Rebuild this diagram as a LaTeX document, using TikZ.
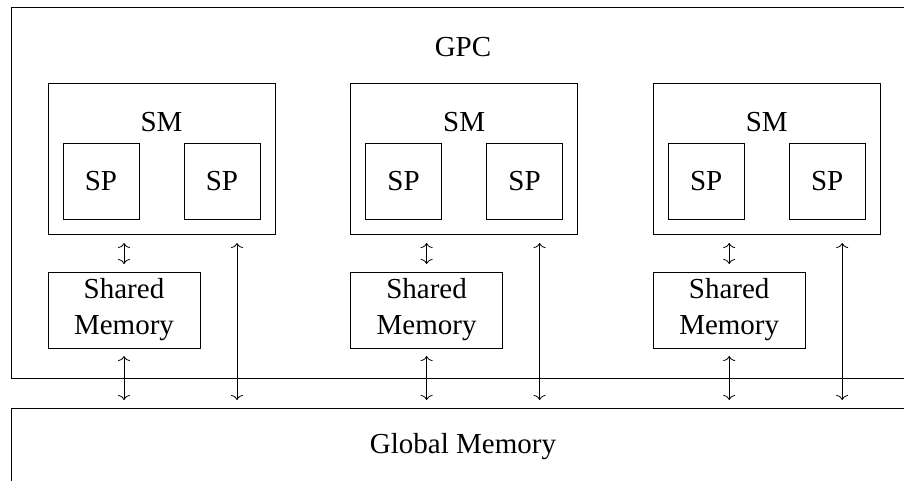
\documentclass[tikz,border=0pt]{standalone}
\usepackage{fontspec}
\setmainfont{Liberation Serif}
\usetikzlibrary{arrows.meta}
\begin{document}
\begin{tikzpicture}[x=1pt,y=-1pt,
  every node/.style={font=\fontsize{29}{36}\selectfont},
  box/.style={draw, line width=0.8pt, inner sep=0pt, outer sep=0pt, anchor=north west},
  lbl/.style={inner sep=0pt, anchor=base},
  arr/.style={line width=0.8pt, {To[width=12pt,length=5pt]}-{To[width=12pt,length=5pt]}}]
\useasboundingbox (0,0) rectangle (904,480);
\clip (0,0) rectangle (904,480);
% outer boxes
\node[box, minimum width=904pt, minimum height=371pt] (gpc) at (11,7) {};
\node[lbl] (gpclabel) at (463,56) {GPC};
\node[box, minimum width=904pt, minimum height=90pt] (gm) at (11,408) {};
\node[lbl] (gmlabel) at (463,453) {Global Memory};
\foreach \i in {0,1,2} {
  \pgfmathsetmacro\ox{48+302.6*\i}
  \node[box, minimum width=227pt, minimum height=151pt] (sm\i) at (\ox,83) {};
  \node[lbl] (smlabel\i) at (\ox+113.5,131) {SM};
  \node[box, minimum width=76pt, minimum height=76pt] (spa\i) at (\ox+15,143) {SP};
  \node[box, minimum width=76pt, minimum height=76pt] (spb\i) at (\ox+136,143) {SP};
  \node[box, minimum width=152pt, minimum height=76pt, align=center] (shm\i) at (\ox,272) {Shared\\Memory};
  \coordinate (lt\i) at ([xshift=-38pt]sm\i.south east);
  \draw[arr, shorten <=9pt, shorten >=8pt] (shm\i.north |- sm\i.south) -- (shm\i.north);
  \draw[arr, shorten <=8pt, shorten >=8pt] (shm\i.south) -- (shm\i.south |- gm.north);
  \draw[arr, shorten <=9pt, shorten >=8pt] (lt\i) -- (lt\i |- gm.north);
}
\end{tikzpicture}
\end{document}
